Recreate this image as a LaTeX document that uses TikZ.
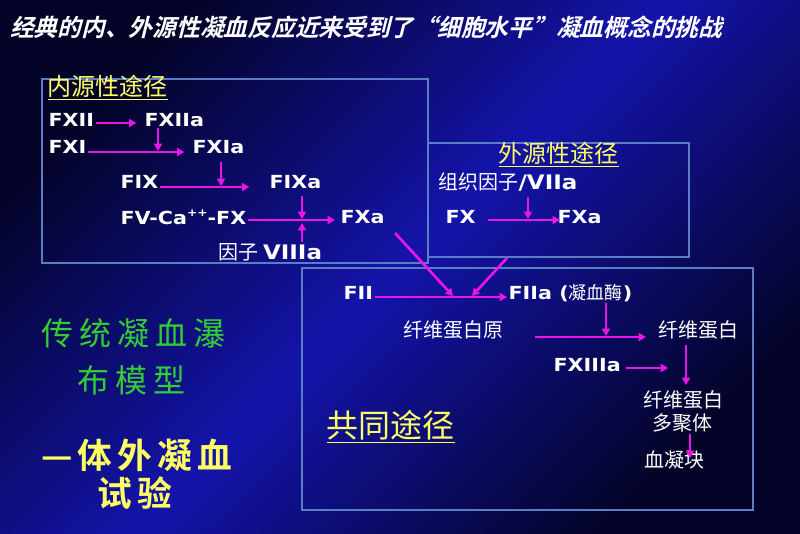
\documentclass[tikz,border=0pt]{standalone}
\usepackage{fontspec}
\usetikzlibrary{arrows.meta}
\newfontfamily\latb{DejaVu Sans Bold}[FakeStretch=1.15]
\newfontfamily\cjk{Noto Sans CJK SC}
\newfontfamily\cjkslant{Noto Sans CJK SC Bold}[FakeSlant=0.25]
\newfontfamily\cjkgreen{Noto Sans CJK SC}[LetterSpace=19]
\newfontfamily\cjkyel{Noto Sans CJK SC Bold}[LetterSpace=15]
\definecolor{mag}{RGB}{235,20,235}
\definecolor{ylw}{RGB}{255,255,100}
\definecolor{grn}{RGB}{50,205,50}
\definecolor{boxc}{RGB}{90,125,195}
\definecolor{bgdark}{RGB}{3,3,40}
\definecolor{bgmid}{RGB}{20,20,170}
\begin{document}
\begin{tikzpicture}[x=0.75pt,y=-0.75pt,
  lat/.style={text=white,inner sep=1pt,anchor=west,font=\latb\fontsize{13.5}{16}\selectfont},
  cj/.style={text=white,inner sep=1pt,anchor=west,font=\cjk\fontsize{15}{18}\selectfont},
  ttl/.style={text=ylw,inner sep=1pt,anchor=west,font=\cjk\fontsize{18}{21}\selectfont},
  pbox/.style={draw=boxc,line width=1.8pt},
  arr/.style={draw=mag,line width=2pt,-{Triangle[length=5.5pt,width=6pt]}}]
\useasboundingbox (0,0) rectangle (800,533);
\shade[top color=bgdark,bottom color=bgdark,middle color=bgmid,shading angle=45] (0,0) rectangle (800,533);
% title
\node[text=white,inner sep=0pt,anchor=west,font=\cjkslant\fontsize{17.8}{20}\selectfont] (title) at (10,27) {经典的内、外源性凝血反应近来受到了“细胞水平”凝血概念的挑战};
% boxes
\draw[pbox] (42,79) rectangle (428,263);
\draw[pbox] (428,143) rectangle (689,257);
\draw[pbox] (302,268) rectangle (753,510);
% intrinsic
\node[ttl] (tin) at (46,88) {\underline{内源性途径}};
\node[lat] (fxii) at (47,120) {FXII};
\node[lat] (fxiia) at (143,120) {FXIIa};
\node[lat] (fxi) at (47,147) {FXI};
\node[lat] (fxia) at (191,147) {FXIa};
\node[lat] (fix) at (119,182) {FIX};
\node[lat] (fixa) at (268,182) {FIXa};
\node[lat] (fv) at (119,217) {FV-Ca\raisebox{0.45em}{\fontsize{8}{9}\selectfont ++}-FX};
\node[lat] (fxa1) at (339,217) {FXa};
\node[cj] (f8) at (217,252) {因子 {\latb VIIIa}};
% extrinsic
\node[ttl] (tex) at (497,155) {\underline{外源性途径}};
\node[cj] (tf) at (437,182) {组织因子{\latb /VIIa}};
\node[lat] (fx2) at (444,217) {FX};
\node[lat] (fxa2) at (556,217) {FXa};
% common
\node[lat] (fii) at (342,293) {FII};
\node[lat] (fiia) at (507,293) {FIIa ({\cjk 凝血酶})};
\node[cj] (fbg) at (402,330) {纤维蛋白原};
\node[cj] (fb1) at (657,330) {纤维蛋白};
\node[lat] (fxiiia) at (552,365) {FXIIIa};
\node[cj] (fb2) at (642,400) {纤维蛋白};
\node[cj] (poly) at (651,423) {多聚体};
\node[cj] (clot) at (643,460) {血凝块};
\node[text=ylw,inner sep=1pt,anchor=west,font=\cjk\fontsize{24}{28}\selectfont] (tco) at (325,427) {\underline{共同途径}};
% left
\node[text=grn,inner sep=0pt,anchor=west,font=\cjkgreen\fontsize{24}{28}\selectfont] (g1) at (41,333) {传统凝血瀑};
\node[text=grn,inner sep=0pt,anchor=west,font=\cjkgreen\fontsize{24}{28}\selectfont] (g2) at (77,380) {布模型};
\node[text=ylw,inner sep=0pt,anchor=west,font=\cjkyel\fontsize{26}{30}\selectfont] (y1) at (41,455) {—体外凝血};
\node[text=ylw,inner sep=0pt,anchor=west,font=\cjkyel\fontsize{26}{30}\selectfont] (y2) at (97,493) {试验};
% junction coordinates
\coordinate (j1) at (158,151);
\coordinate (j2) at (221,186);
\coordinate (j3) at (302,219);
\coordinate (j4) at (302,223);
\coordinate (j5) at (528,219);
\coordinate (d1s) at (395,233);
\coordinate (d1e) at (453,296);
\coordinate (d2s) at (507,258);
\coordinate (d2e) at (472,296);
\coordinate (j6) at (606,336);
\coordinate (fbgs) at (535,337);
\coordinate (fbge) at (646,337);
\coordinate (x13e) at (668,368);
\coordinate (j7) at (686,385);
\coordinate (j8) at (690,458);
% arrows intrinsic
\draw[arr,shorten >=5pt] (fxii.east |- 0,123) -- (fxiia.west |- 0,123);
\draw[arr,shorten >=5pt] (fxi.east |- 0,152) -- (fxia.west |- 0,152);
\draw[arr] (fxiia.south -| j1) -- (j1);
\draw[arr,shorten >=14pt] (fix.east |- 0,187) -- (fixa.west |- 0,187);
\draw[arr,shorten <=5pt] (fxia.south -| j2) -- (j2);
\draw[arr,shorten >=3pt] (fv.east |- 0,220) -- (fxa1.west |- 0,220);
\draw[arr,shorten <=4pt] (fixa.south -| j3) -- (j3);
\draw[arr] (f8.north -| j4) -- (j4);
% extrinsic
\draw[arr,shorten <=3pt] (tf.south -| j5) -- (j5);
\draw[arr,shorten <=8pt,shorten >=-3pt] (fx2.east |- 0,220) -- (fxa2.west |- 0,220);
% to common
\draw[arr] (d1s) -- (d1e);
\draw[arr] (d2s) -- (d2e);
% common
\draw[arr] (fii.east |- 0,297) -- (fiia.west |- 0,297);
\draw[arr] (fiia.south -| j6) -- (j6);
\draw[arr] (fbgs) -- (fbge);
\draw[arr,shorten <=3pt] (fxiiia.east |- 0,368) -- (x13e);
\draw[arr,shorten <=3pt] (fb1.south -| j7) -- (j7);
\draw[arr] (poly.south -| j8) -- (j8);
\end{tikzpicture}
\end{document}
